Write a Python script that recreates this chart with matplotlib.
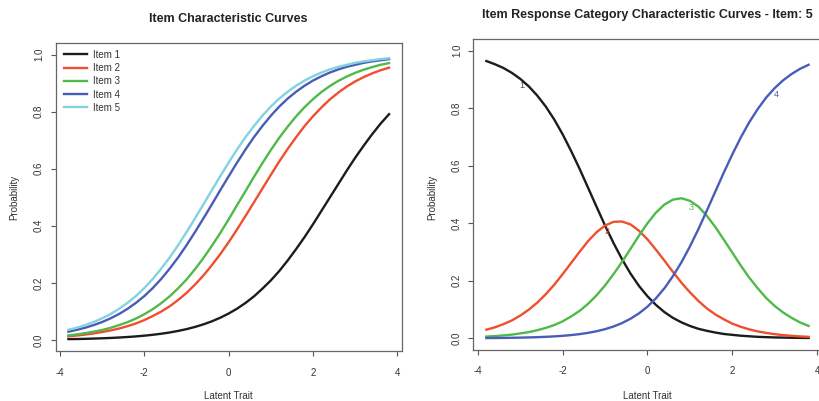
import matplotlib
matplotlib.use("Agg")
import matplotlib.pyplot as plt

plt.rcParams['font.family'] = ['Liberation Sans', 'DejaVu Sans']

# latent trait grid the curves were read at (-3.8 .. 3.8 in steps of 0.2)
theta = [-3.8, -3.6, -3.4, -3.2, -3.0, -2.8, -2.6, -2.4, -2.2, -2.0,
         -1.8, -1.6, -1.4, -1.2, -1.0, -0.8, -0.6, -0.4, -0.2, 0.0,
         0.2, 0.4, 0.6, 0.8, 1.0, 1.2, 1.4, 1.6, 1.8, 2.0,
         2.2, 2.4, 2.6, 2.8, 3.0, 3.2, 3.4, 3.6, 3.8]

# left panel: item characteristic curves
item_names = ["Item 1", "Item 2", "Item 3", "Item 4", "Item 5"]
item1 = [0.003, 0.0033, 0.004, 0.0049, 0.0059, 0.0071, 0.0086, 0.0104, 0.0125, 0.0151,
         0.0182, 0.0219, 0.0263, 0.0317, 0.038, 0.0457, 0.0547, 0.0654, 0.078, 0.0928,
         0.110, 0.130, 0.153, 0.180, 0.209, 0.242, 0.279, 0.319, 0.361, 0.406,
         0.453, 0.500, 0.547, 0.594, 0.639, 0.681, 0.721, 0.758, 0.791]
item2 = [0.013, 0.0156, 0.019, 0.0229, 0.028, 0.0334, 0.040, 0.0484, 0.058, 0.0698,
         0.084, 0.0996, 0.118, 0.140, 0.165, 0.194, 0.226, 0.262, 0.301, 0.343,
         0.388, 0.435, 0.483, 0.531, 0.579, 0.626, 0.670, 0.711, 0.750, 0.784,
         0.815, 0.843, 0.867, 0.888, 0.906, 0.921, 0.934, 0.945, 0.954]
item3 = [0.016, 0.0196, 0.024, 0.029, 0.035, 0.0427, 0.052, 0.0624, 0.075, 0.0903,
         0.108, 0.129, 0.153, 0.181, 0.212, 0.248, 0.287, 0.330, 0.375, 0.423,
         0.473, 0.522, 0.572, 0.620, 0.666, 0.709, 0.748, 0.784, 0.816, 0.844,
         0.869, 0.890, 0.908, 0.923, 0.936, 0.947, 0.956, 0.964, 0.970]
item4 = [0.029, 0.0356, 0.043, 0.0522, 0.063, 0.0759, 0.091, 0.109, 0.130, 0.154,
         0.182, 0.214, 0.250, 0.289, 0.332, 0.378, 0.426, 0.475, 0.525, 0.574,
         0.622, 0.668, 0.711, 0.750, 0.786, 0.818, 0.846, 0.870, 0.891, 0.909,
         0.924, 0.937, 0.948, 0.957, 0.964, 0.971, 0.976, 0.980, 0.984]
item5 = [0.036, 0.0431, 0.052, 0.063, 0.076, 0.0911, 0.109, 0.130, 0.154, 0.182,
         0.214, 0.250, 0.289, 0.332, 0.378, 0.426, 0.475, 0.525, 0.574, 0.622,
         0.668, 0.711, 0.750, 0.786, 0.818, 0.846, 0.870, 0.891, 0.909, 0.924,
         0.937, 0.948, 0.957, 0.964, 0.971, 0.976, 0.980, 0.984, 0.987]
items = [item1, item2, item3, item4, item5]

# right panel: category curves of item 5
cat_names = ["1", "2", "3", "4"]
cat1 = [0.964, 0.953, 0.940, 0.923, 0.902, 0.876, 0.844, 0.806, 0.761, 0.709,
        0.651, 0.589, 0.523, 0.457, 0.392, 0.331, 0.275, 0.225, 0.182, 0.146,
        0.116, 0.091, 0.071, 0.0555, 0.043, 0.033, 0.026, 0.020, 0.015, 0.012,
        0.009, 0.007, 0.005, 0.004, 0.003, 0.0024, 0.0019, 0.0014, 0.0011]
cat2 = [0.030, 0.038, 0.049, 0.062, 0.079, 0.0995, 0.124, 0.153, 0.186, 0.223,
        0.262, 0.301, 0.338, 0.369, 0.392, 0.405, 0.406, 0.396, 0.374, 0.344,
        0.308, 0.270, 0.231, 0.1935, 0.160, 0.130, 0.104, 0.083, 0.066, 0.051,
        0.040, 0.031, 0.024, 0.0186, 0.0144, 0.011, 0.0085, 0.0065, 0.005]
cat3 = [0.006, 0.0076, 0.010, 0.0127, 0.017, 0.0215, 0.028, 0.036, 0.046, 0.059,
        0.076, 0.0955, 0.120, 0.1495, 0.184, 0.223, 0.266, 0.311, 0.357, 0.400,
        0.437, 0.465, 0.482, 0.487, 0.478, 0.458, 0.426, 0.387, 0.343, 0.298,
        0.253, 0.211, 0.174, 0.140, 0.1125, 0.0896, 0.071, 0.055, 0.043]
cat4 = [0.0008, 0.001, 0.0013, 0.0018, 0.0023, 0.003, 0.0039, 0.0051, 0.0066, 0.0086,
        0.0112, 0.0145, 0.0189, 0.0245, 0.0317, 0.041, 0.0529, 0.068, 0.0867, 0.110,
        0.139, 0.174, 0.216, 0.264, 0.319, 0.379, 0.444, 0.510, 0.576, 0.639,
        0.698, 0.751, 0.797, 0.837, 0.870, 0.897, 0.919, 0.937, 0.951]
cats = [cat1, cat2, cat3, cat4]
label_at = [4, 14, 24, 34]  # grid index where each category number sits

colors = ['#1c1c1c', '#ef4f2e', '#4fb94a', '#4a5cb9', '#82d2e0']
label_colors = ['#4e4470', '#ef4f2e', '#4fb94a', '#4a5cb9']

xticks = [-4, -2, 0, 2, 4]
yticks = [0.0, 0.2, 0.4, 0.6, 0.8, 1.0]

fig = plt.figure(figsize=(8.2, 4.01), dpi=100)
ax1 = fig.add_axes([0.0678, 0.1237, 0.4223, 0.7688])
ax2 = fig.add_axes([0.5774, 0.1277, 0.4244, 0.7746])


def r_style(ax):
    ax.set_xlim(-4.104, 4.104)
    ax.set_ylim(-0.04, 1.04)
    ax.set_xticks(xticks)
    ax.set_xticklabels([str(t) for t in xticks])
    ax.set_yticks(yticks)
    ax.set_yticklabels([f"{t:.1f}" for t in yticks], rotation=90, va='center')
    ax.tick_params(axis='both', direction='out', length=3.8, width=0.8,
                   colors='#555555', labelsize=7, labelcolor='#333333')
    ax.tick_params(axis='x', pad=8)
    ax.tick_params(axis='y', pad=4.5)
    for s in ax.spines.values():
        s.set_color('#666666')
        s.set_linewidth(0.9)


for ys, name, c in zip(items, item_names, colors):
    ax1.plot(theta, ys, color=c, lw=1.7, label=name)
r_style(ax1)
ax1.legend(loc='upper left', bbox_to_anchor=(0.025, 0.978), frameon=False,
           fontsize=7, handlelength=2.3, handletextpad=0.7, labelspacing=0.33,
           borderpad=0, borderaxespad=0, labelcolor='#333333')

for ys, name, c, lc, i in zip(cats, cat_names, colors, label_colors, label_at):
    ax2.plot(theta, ys, color=c, lw=1.7)
    ax2.annotate(name, (theta[i], ys[i]), xytext=(1.2, -4.5),
                 textcoords='offset points', ha='center', va='center',
                 fontsize=6.5, color=lc)
r_style(ax2)

fig.text(228 / 820, 1 - 19 / 401, "Item Characteristic Curves",
         ha='center', va='center', fontsize=9, fontweight='bold', color='#222222')
fig.text(647 / 820, 1 - 15 / 401,
         "Item Response Category Characteristic Curves - Item: 5",
         ha='center', va='center', fontsize=9, fontweight='bold', color='#222222')

for xc in (228, 647):
    fig.text(xc / 820, 1 - 396 / 401, "Latent Trait", ha='center', va='center',
             fontsize=7, color='#333333')
for xc in (14, 432):
    fig.text(xc / 820, 1 - 197 / 401, "Probability", ha='center', va='center',
             rotation=90, fontsize=7, color='#333333')

fig.savefig("out.png", dpi=100)
